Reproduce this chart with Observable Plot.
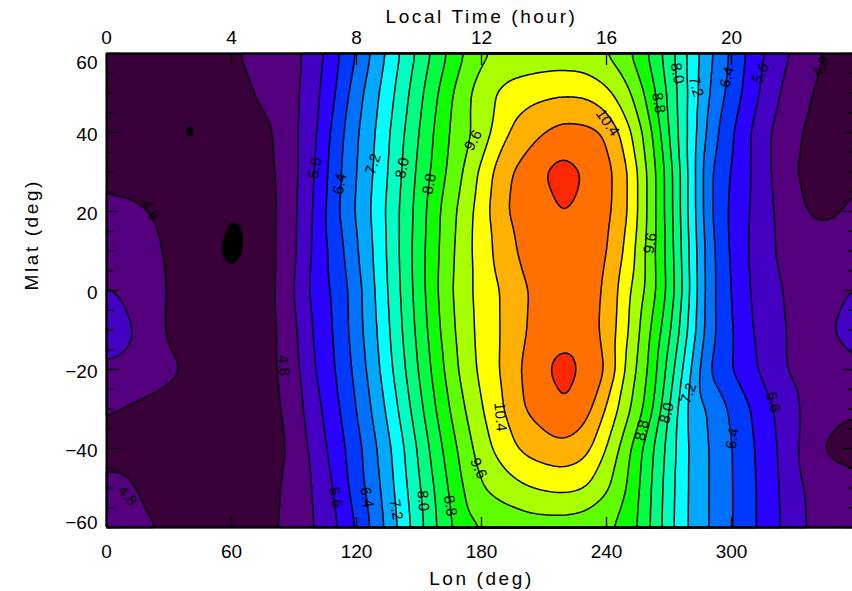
<!DOCTYPE html>
<html><head><meta charset="utf-8">
<script src="https://cdn.jsdelivr.net/npm/d3@7"></script>
<script src="https://cdn.jsdelivr.net/npm/@observablehq/plot@0.6"></script>
<style>
html,body{margin:0;padding:0;background:#fff;overflow:hidden;}
#chart svg{display:block;}
</style></head><body><div id="chart"></div>
<script>
// grid longitudes (deg) and magnetic latitudes (deg)
const lonGrid = [0,10,20,30,40,50,60,70,80,90,100,110,120,130,140,150,160,170,180,190,200,210,220,230,240,250,260,270,280,290,300,310,320,330,340,350,360];
const latGrid = [60,50,40,30,20,10,0,-10,-20,-30,-40,-50,-60];
// values, one row per latitude (lon 0..360)
const vLat60  = [4.6,4.6,4.6,4.58,4.55,4.6,4.75,4.88,4.98,5.1,5.38,5.9,6.42,6.98,7.55,8.1,8.63,9.13,9.55,9.65,9.7,9.74,9.74,9.7,9.6,9.28,8.8,8.2,7.5,6.85,6.33,5.85,5.42,5.15,4.88,4.65,4.6];
const vLat50  = [4.62,4.6,4.57,4.53,4.5,4.55,4.65,4.79,4.93,5.1,5.47,6.0,6.63,7.15,7.7,8.28,8.85,9.4,9.8,10.1,10.22,10.3,10.35,10.33,10.1,9.72,9.08,8.32,7.52,6.75,6.25,5.75,5.3,5.0,4.77,4.62,4.62];
const vLat40  = [4.65,4.6,4.53,4.47,4.35,4.47,4.55,4.65,4.78,5.12,5.53,6.17,6.75,7.25,7.83,8.4,8.98,9.45,9.75,10.3,10.58,10.8,10.95,10.92,10.78,10.15,9.4,8.4,7.5,6.6,6.05,5.55,5.15,4.88,4.68,4.6,4.65];
const vLat30  = [4.7,4.65,4.6,4.55,4.47,4.5,4.55,4.65,4.75,5.1,5.6,6.25,6.8,7.3,7.9,8.5,9.05,9.55,10.1,10.65,10.95,11.2,11.38,11.15,10.95,10.45,9.55,8.6,7.5,6.4,5.97,5.57,5.15,4.82,4.65,4.6,4.7];
const vLat20  = [4.9,4.88,4.81,4.7,4.58,4.5,4.41,4.52,4.73,5.12,5.65,6.3,6.85,7.37,7.97,8.58,9.2,9.7,10.2,10.74,10.97,11.12,11.22,11.08,10.92,10.45,9.55,8.6,7.5,6.4,5.92,5.55,5.2,4.9,4.74,4.76,4.9];
const vLat10  = [5.05,5.0,4.9,4.75,4.6,4.55,4.22,4.55,4.74,5.12,5.7,6.17,6.75,7.32,7.97,8.62,9.23,9.76,10.2,10.58,10.9,11.05,11.12,11.05,10.85,10.3,9.48,8.65,7.55,6.5,5.93,5.52,5.2,5.05,4.95,4.98,5.05];
const vLat0   = [5.22,5.15,4.98,4.77,4.62,4.55,4.52,4.57,4.73,5.2,5.75,6.08,6.62,7.27,7.93,8.6,9.27,9.8,10.15,10.43,10.75,10.95,11.05,11.0,10.75,10.1,9.5,8.7,7.6,6.5,5.98,5.55,5.27,5.12,5.08,5.15,5.22];
const vLatM10 = [5.45,5.28,5.0,4.75,4.62,4.55,4.52,4.57,4.72,5.1,5.67,6.05,6.62,7.2,7.87,8.53,9.2,9.75,10.13,10.43,10.77,10.98,11.02,11.0,10.7,10.05,9.3,8.5,7.5,6.5,6.03,5.6,5.32,5.13,5.08,5.2,5.45];
const vLatM20 = [5.12,5.08,5.0,4.88,4.75,4.6,4.55,4.6,4.73,5.05,5.6,6.0,6.52,7.12,7.77,8.43,9.08,9.68,10.1,10.45,10.85,11.15,11.36,11.1,10.82,9.9,9.2,8.25,7.25,6.33,6.0,5.68,5.35,5.12,5.05,5.08,5.12];
const vLatM30 = [4.82,4.77,4.7,4.63,4.58,4.52,4.5,4.55,4.68,5.0,5.45,5.9,6.4,6.97,7.6,8.27,8.93,9.5,9.98,10.37,10.8,10.99,11.2,10.98,10.37,9.7,9.05,8.0,7.07,6.73,6.33,5.97,5.6,5.27,5.0,4.86,4.82];
const vLatM40 = [4.72,4.7,4.65,4.6,4.55,4.52,4.52,4.55,4.65,4.9,5.35,5.78,6.25,6.8,7.4,8.07,8.73,9.3,9.8,10.2,10.48,10.62,10.7,10.55,10.0,9.33,8.6,7.85,7.13,6.77,6.42,6.04,5.67,5.3,4.84,4.72,4.72];
const vLatM50 = [4.85,4.86,4.72,4.65,4.58,4.55,4.55,4.6,4.72,4.95,5.24,5.65,6.2,6.7,7.32,7.95,8.57,9.15,9.58,9.8,9.95,10.05,10.1,10.02,9.68,9.2,8.52,7.78,7.13,6.77,6.42,6.07,5.7,5.35,5.05,4.92,4.85];
const vLatM60 = [4.9,4.88,4.84,4.75,4.65,4.6,4.6,4.64,4.75,4.95,5.2,5.55,6.03,6.6,7.22,7.85,8.5,9.0,9.2,9.28,9.35,9.38,9.38,9.33,9.25,9.08,8.48,7.75,7.12,6.77,6.42,6.07,5.72,5.38,5.08,4.95,4.9];

// contour levels
const levels = [4.4,4.8,5.2,5.6,6.0,6.4,6.8,7.2,7.6,8.0,8.4,8.8,9.2,9.6,10.0,10.4,10.8,11.2];

// axis ticks
const lonTicks = [0,60,120,180,240,300];
const ltTicks = [0,4,8,12,16,20];
const latTicks = [-40,-20,0,20,40];
const latEnds = [60,-60];
const latMinor = [-55,-50,-45,-35,-30,-25,-15,-10,-5,5,10,15,25,30,35,45,50,55];

// contour labels
const labLon = [21,85,10,343,100,112,128,142,155,176,240.5,265,274,283,298,314,261,279.4,269,257,300.5,320,110,125,139,152,165,178.6,189];
const labLat = [20.4,-19,-52,56.7,31,27,32,31,27,38,42.5,47.5,55,51.6,54,55,12,-26,-31,-35.4,-37.5,-28.3,-52.4,-52.4,-55.5,-53.2,-54.5,-45,-32];
const labTxt = ["4.8","4.8","4.8","4.8","5.6","6.4","7.2","8.0","8.8","9.6","10.4","8.8","8.0","7.2","6.4","5.6","9.6","7.2","8.0","8.8","6.4","5.6","5.6","6.4","7.2","8.0","8.8","9.6","10.4"];

// styling
const palette = ["#000000","#3a0039","#54007e","#4400c3","#2a00ff","#0038ff","#0070ff","#00a8ff","#00ffff","#00ffc0","#00ff80","#00ff40","#10ff00","#60ff00","#a8ff00","#ffff00","#ffb000","#ff7000","#ff2800"];
const labRot = [60,85,50,-60,-80,-80,-72,-78,-80,-62,55,80,80,75,-75,-65,-80,-70,-75,-78,-80,75,80,80,80,85,80,65,85];

const rows = [vLat60,vLat50,vLat40,vLat30,vLat20,vLat10,vLat0,vLatM10,vLatM20,vLatM30,vLatM40,vLatM50,vLatM60];
const points = [];
latGrid.forEach((la, i) => lonGrid.forEach((lo, j) => points.push({lon: lo, lat: la, v: rows[i][j]})));
const labels = labLon.map((lo, i) => ({lon: lo, lat: labLat[i], t: labTxt[i], a: labRot[i]}));

const W = 852, H = 591, mL = 106, mR = -4, mT = 53, mB = 64;
const fw = W - mL - mR, fh = H - mT - mB;
const font = "'Liberation Sans', Arial, sans-serif";
const fmt = d => d < 0 ? "\u2212" + Math.abs(d) : String(d);
const cOpts = {x: "lon", y: "lat", interpolate: "barycentric", pixelSize: 2, blur: 3};

const plot = Plot.plot({
  width: W, height: H, marginLeft: mL, marginRight: mR, marginTop: mT, marginBottom: mB,
  x: {domain: [0, 360], axis: null},
  y: {domain: [-60, 60], axis: null},
  color: {type: "threshold", domain: levels, range: palette},
  style: {fontFamily: font, background: "white", color: "black"},
  marks: [
    Plot.contour(points, {...cOpts, fill: "v", thresholds: [0, ...levels], stroke: "none"}),
    Plot.contour(points, {...cOpts, value: "v", thresholds: levels, fill: "none", stroke: "black", strokeWidth: 1.5}),
    Plot.text(labels, {x: "lon", y: "lat", text: "t", rotate: "a", fontSize: 15, fill: "black"}),
    // ticks (inward, IDL style)
    Plot.tickY(latTicks.concat(latEnds), {y: d => d, stroke: "black", strokeWidth: 1.3, insetRight: fw - 13}),
    Plot.tickY(latMinor, {y: d => d, stroke: "black", strokeWidth: 1.3, insetRight: fw - 8}),
    Plot.tickY(latTicks.concat(latEnds), {y: d => d, stroke: "black", strokeWidth: 1.3, insetLeft: fw - 13}),
    Plot.tickY(latMinor, {y: d => d, stroke: "black", strokeWidth: 1.3, insetLeft: fw - 8}),
    Plot.tickX(lonTicks, {x: d => d, stroke: "black", strokeWidth: 1.3, insetTop: fh - 10}),
    Plot.tickX(ltTicks, {x: d => d * 15, stroke: "black", strokeWidth: 1.3, insetBottom: fh - 12}),
    // frame
    Plot.ruleX([0], {stroke: "black", strokeWidth: 1.8}),
    Plot.ruleY([-60, 60], {stroke: "black", strokeWidth: 1.8}),
    // tick labels
    Plot.text(latTicks, {y: d => d, text: fmt, frameAnchor: "left", textAnchor: "end", lineAnchor: "middle", dx: -9, dy: 2, fontSize: 19}),
    Plot.text([60], {y: d => d, text: fmt, frameAnchor: "left", textAnchor: "end", lineAnchor: "middle", dx: -9, dy: 9, fontSize: 19}),
    Plot.text([-60], {y: d => d, text: fmt, frameAnchor: "left", textAnchor: "end", lineAnchor: "middle", dx: -9, dy: -5, fontSize: 19}),
    Plot.text(lonTicks, {x: d => d, text: d => String(d), frameAnchor: "bottom", lineAnchor: "middle", dy: 24, fontSize: 19}),
    Plot.text(ltTicks, {x: d => d * 15, text: d => String(d), frameAnchor: "top", lineAnchor: "middle", dy: -16, fontSize: 19}),
    // axis titles
    Plot.text(["Local Time (hour)"], {frameAnchor: "top", lineAnchor: "middle", dy: -37, fontSize: 19}),
    Plot.text(["Lon (deg)"], {frameAnchor: "bottom", lineAnchor: "middle", dy: 51, fontSize: 19}),
    Plot.text(["Mlat (deg)"], {frameAnchor: "left", lineAnchor: "middle", dx: -75, rotate: -90, fontSize: 19})
  ]
});
d3.select(plot).selectAll("text").each(function() {
  const s = this.textContent;
  if (s === "Local Time (hour)" || s === "Lon (deg)" || s === "Mlat (deg)") this.setAttribute("letter-spacing", "2.6");
});
document.getElementById("chart").appendChild(plot);
</script>
</body></html>
